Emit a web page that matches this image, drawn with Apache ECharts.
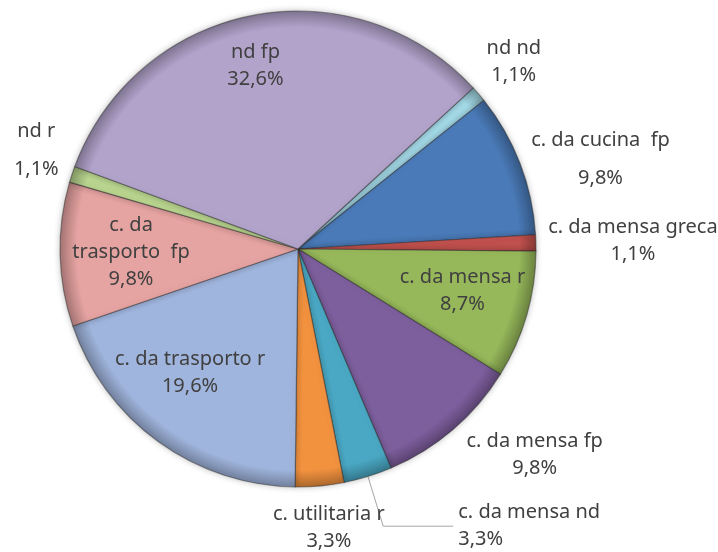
<!DOCTYPE html>
<html>
<head>
<meta charset="utf-8">
<script src="https://cdn.jsdelivr.net/npm/echarts@6/dist/echarts.min.js"></script>
<style>
html, body { margin: 0; background: #fff; }
#main { width: 718px; height: 552px; }
</style>
</head>
<body>
<div id="main"></div>
<script>
// slices, clockwise from the top right
var names = ['nd nd', 'c. da cucina  fp', 'c. da mensa greca', 'c. da mensa r', 'c. da mensa fp',
    'c. da mensa nd', 'c. utilitaria r', 'c. da trasporto r', 'c. da trasporto  fp', 'nd r', 'nd fp'];
var labelNames = ['nd nd', 'c. da cucina  fp', 'c. da mensa greca', 'c. da mensa r', 'c. da mensa fp',
    'c. da mensa nd', 'c. utilitaria r', 'c. da trasporto r', 'c. da\ntrasporto  fp', 'nd r', 'nd fp'];
var values = [1.1, 9.8, 1.1, 8.7, 9.8, 3.3, 3.3, 19.6, 9.8, 1.1, 32.6];
var colors = ['#a3d9e6', '#4a7ab8', '#c0504d', '#96b85a', '#7e5f9e',
    '#4aa8c4', '#f2923f', '#a0b5dd', '#e5a3a1', '#b8d48e', '#b2a3cb'];

var CENTER = [298, 249];
var R = 238;
var START = 42.6;

// label rings: labels sit inside an invisible pie whose middle radius is dist
var rings = [
    { dist: 167, names: ['c. da trasporto  fp', 'c. da trasporto r', 'c. da mensa r'] },
    { dist: 189, names: ['nd fp'] },
    { dist: 283, names: ['nd nd', 'c. utilitaria r', 'nd r'] },
    { dist: 322, names: ['c. da cucina  fp', 'c. da mensa greca', 'c. da mensa fp'] }
];
var nudge = {
    'c. da trasporto r': [-10, -11],
    'c. da mensa r': [4, -5],
    'nd fp': [-6, 2],
    'nd nd': [1, -3],
    'c. utilitaria r': [5, -3],
    'nd r': [7, -10],
    'c. da cucina  fp': [2, 26],
    'c. da mensa greca': [13, 0],
    'c. da mensa fp': [27, -39]
};
var tallLines = ['c. da cucina  fp', 'nd r'];

function shade(hex, f) {
    var n = parseInt(hex.slice(1), 16);
    var r = Math.round(((n >> 16) & 255) * f);
    var g = Math.round(((n >> 8) & 255) * f);
    var b = Math.round((n & 255) * f);
    return 'rgb(' + r + ',' + g + ',' + b + ')';
}

function fmt(i) {
    return labelNames[i] + '\n' + values[i].toFixed(1).replace('.', ',') + '%';
}

var textStyle = {
    color: '#404040',
    fontFamily: 'Noto Sans',
    fontSize: 20,
    lineHeight: 27
};

var main = {
    type: 'pie',
    center: CENTER,
    radius: [0, R],
    startAngle: START,
    clockwise: true,
    z: 2,
    silent: true,
    itemStyle: {
        borderColor: 'rgba(40,40,40,0.45)',
        borderWidth: 1.2,
        shadowBlur: 6,
        shadowColor: 'rgba(0,0,0,0.25)'
    },
    data: names.map(function (n, i) {
        var isLeader = n === 'c. da mensa nd';
        return {
            name: n,
            value: values[i],
            itemStyle: {
                color: {
                    type: 'radial', x: CENTER[0], y: CENTER[1], r: R, global: true,
                    colorStops: [
                        { offset: 0, color: colors[i] },
                        { offset: 0.93, color: colors[i] },
                        { offset: 1, color: shade(colors[i], 0.72) }
                    ]
                }
            },
            label: Object.assign({
                show: isLeader,
                position: 'outside',
                formatter: function () { return fmt(i); },
                distanceToLabelLine: 5
            }, textStyle),
            labelLine: {
                show: isLeader,
                length: 52,
                length2: 70,
                lineStyle: { color: '#a6a6a6', width: 1 }
            }
        };
    })
};

function ring(cfg) {
    return {
        type: 'pie',
        center: CENTER,
        radius: [0, 2 * (cfg.dist - 3)],
        startAngle: START,
        clockwise: true,
        silent: true,
        z: 3,
        itemStyle: { color: 'rgba(0,0,0,0)' },
        labelLine: { show: false },
        data: names.map(function (n, i) {
            return {
                name: n,
                value: values[i],
                label: Object.assign({}, textStyle, {
                    show: cfg.names.indexOf(n) >= 0,
                    position: 'inside',
                    align: 'center',
                    lineHeight: tallLines.indexOf(n) >= 0 ? 38 : 27,
                    formatter: function () { return fmt(i); }
                })
            };
        }),
        labelLayout: function (p) {
            var d = nudge[names[p.dataIndex]];
            return d ? { dx: d[0], dy: d[1] } : {};
        }
    };
}

var chart = echarts.init(document.getElementById('main'));
chart.setOption({
    backgroundColor: '#ffffff',
    animation: false,
    series: [main].concat(rings.map(ring))
});
</script>
</body>
</html>
